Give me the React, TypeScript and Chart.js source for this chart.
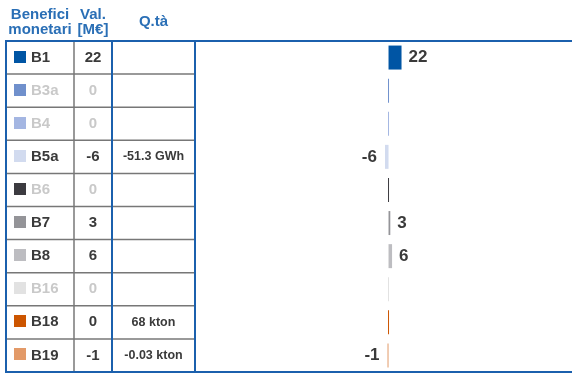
import React, { useEffect, useRef } from "react";
import { Chart, registerables } from "chart.js";
Chart.register(...registerables);

const categories = ["B1", "B3a", "B4", "B5a", "B6", "B7", "B8", "B16", "B18", "B19"];
const values = [22, 0, 0, -6, 0, 3, 6, 0, 0, -1];
const quantities = ["", "", "", "-51.3 GWh", "", "", "", "", "68 kton", "-0.03 kton"];
const colors = ["#0055a4", "#7090cc", "#a4b6e2", "#d2dbef", "#3c3b40", "#949498", "#bdbdc1", "#e2e2e2", "#cc5500", "#e39a68"];
const headers = [["Benefici", "monetari"], ["Val.", "[M€]"], ["Q.tà"]];
const xMin = -327.5;
const xMax = 310.5;

const FONT = "'Liberation Sans', Arial, Helvetica, sans-serif";

const tablePlugin = {
  id: "tablePlugin",
  afterDraw(chart: any) {
    const { ctx, chartArea, scales } = chart;
    const yS = scales.y;
    const xS = scales.x;
    const n = categories.length;
    const top = chartArea.top;
    const bottom = chartArea.bottom;
    const rowH = (bottom - top) / n;
    const c0 = 6, c1 = 74, c2 = 112, c3 = 195;
    const blue = "#1b60ad";
    ctx.save();
    // grey row lines
    ctx.strokeStyle = "#777777";
    ctx.lineWidth = 1.5;
    for (let i = 1; i < n; i++) {
      const y = top + i * rowH;
      ctx.beginPath();
      ctx.moveTo(c0, y);
      ctx.lineTo(c3, y);
      ctx.stroke();
    }
    ctx.beginPath();
    ctx.moveTo(c1, top);
    ctx.lineTo(c1, bottom);
    ctx.stroke();
    // blue lines
    ctx.strokeStyle = blue;
    ctx.lineWidth = 2;
    [c0, c2, c3].forEach((x) => {
      ctx.beginPath();
      ctx.moveTo(x, top);
      ctx.lineTo(x, bottom);
      ctx.stroke();
    });
    [top, bottom].forEach((y) => {
      ctx.beginPath();
      ctx.moveTo(c0 - 1, y);
      ctx.lineTo(chart.width, y);
      ctx.stroke();
    });
    // headers
    ctx.fillStyle = "#2a6fb6";
    ctx.font = `bold 15px ${FONT}`;
    ctx.textAlign = "center";
    ctx.textBaseline = "alphabetic";
    const hx = [(c0 + c1) / 2, (c1 + c2) / 2, (c2 + c3) / 2];
    headers.forEach((lines, i) => {
      if (lines.length === 2) {
        ctx.fillText(lines[0], hx[i], 19);
        ctx.fillText(lines[1], hx[i], 34);
      } else {
        ctx.fillText(lines[0], hx[i], 26);
      }
    });
    // rows
    categories.forEach((cat, i) => {
      const cy = yS.getPixelForValue(i);
      const muted = values[i] === 0 && !quantities[i];
      const txt = muted ? "#c9c9c9" : "#3a3a3a";
      ctx.fillStyle = colors[i];
      ctx.fillRect(14, Math.round(cy - 7), 12, 12);
      ctx.fillStyle = txt;
      ctx.font = `bold 15px ${FONT}`;
      ctx.textAlign = "left";
      ctx.textBaseline = "middle";
      ctx.fillText(cat, 31, cy);
      ctx.textAlign = "center";
      ctx.fillText(String(values[i]), hx[1], cy);
      if (quantities[i]) {
        ctx.font = `bold 12.5px ${FONT}`;
        ctx.fillText(quantities[i], hx[2], cy);
      }
      // bar value labels
      if (values[i] !== 0) {
        ctx.font = `bold 17px ${FONT}`;
        ctx.fillStyle = "#3a3a3a";
        const xv = xS.getPixelForValue(values[i]);
        const x0 = xS.getPixelForValue(0);
        if (values[i] > 0) {
          ctx.textAlign = "left";
          ctx.fillText(String(values[i]), Math.max(xv, x0 + 1) + 7, cy);
        } else {
          ctx.textAlign = "right";
          ctx.fillText(String(values[i]), Math.min(xv, x0 - 1) - 8, cy);
        }
      }
    });
    ctx.restore();
  },
};

export default function App() {
  const ref = useRef<HTMLCanvasElement>(null);
  useEffect(() => {
    document.body.style.margin = "0";
    const chart = new Chart(ref.current!, {
      type: "bar",
      data: {
        labels: categories,
        datasets: [
          {
            data: values,
            backgroundColor: colors,
            borderWidth: 0,
            barPercentage: 0.725,
            categoryPercentage: 1,
            minBarLength: 1,
          },
        ],
      },
      options: {
        indexAxis: "y",
        responsive: false,
        animation: false,
        layout: { padding: { left: 195, top: 41, bottom: 2, right: 0 } },
        plugins: { legend: { display: false }, tooltip: { enabled: false } },
        scales: {
          x: { display: false, min: xMin, max: xMax },
          y: { display: false },
        },
      },
      plugins: [tablePlugin],
    });
    return () => chart.destroy();
  }, []);
  return (
    <div style={{ width: 572, height: 374 }}>
      <canvas ref={ref} width={572} height={374} />
    </div>
  );
}
